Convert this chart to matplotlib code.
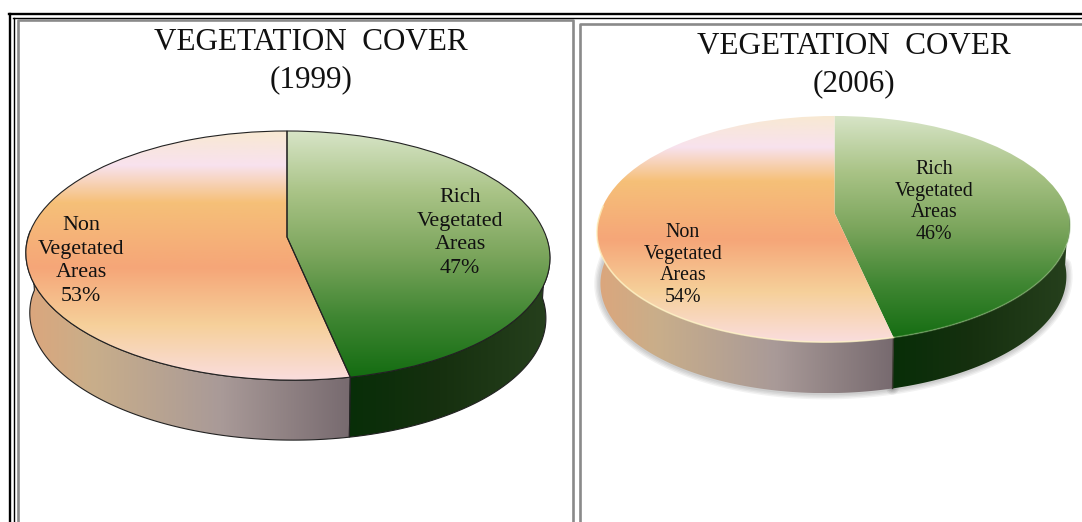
import numpy as np
import matplotlib
matplotlib.use("Agg")
import matplotlib.pyplot as plt
from matplotlib.colors import LinearSegmentedColormap
from matplotlib.patches import Polygon
from matplotlib.transforms import Transform

plt.rcParams['font.family'] = ['Liberation Serif', 'DejaVu Serif']

titles = ["VEGETATION  COVER\n(1999)", "VEGETATION  COVER\n(2006)"]
categories = ["Rich\nVegetated\nAreas", "Non\nVegetated\nAreas"]
values_1999 = [47, 53]
values_2006 = [46, 54]

# top face colours, from back of the pie to the front
green_top = ["#d8e5c8", "#a9c386", "#7ba55c", "#3f8632", "#126b10"]
orange_top = ["#f8e9d2", "#f8e2ee", "#f6c078", "#f5a678", "#f6d09a", "#fadddd"]
orange_stops = [0, 0.14, 0.29, 0.55, 0.78, 1]
# side wall colours, left to right
green_side = ["#082e08", "#16300f", "#26401d"]
orange_side = ["#dca67c", "#c9ae8a", "#a99a98", "#776a6f"]


class Persp(Transform):
    # unit circle -> tilted ellipse in pixel coordinates
    input_dims = 2
    output_dims = 2
    has_inverse = False

    def __init__(self, cx, cy, sx, sy, k, sh):
        super().__init__()
        self.p = (cx, cy, sx, sy, k, sh)

    def transform_non_affine(self, xy):
        cx, cy, sx, sy, k, sh = self.p
        xy = np.asarray(xy, dtype=float)
        w = 1 + k * xy[:, 1]
        ##front half leans a little, as in the drawing
        x = sx * xy[:, 0] + sh * np.minimum(xy[:, 1], 0)
        return np.column_stack([cx + x / w, cy - sy * xy[:, 1] / w])


def gradient(ax, box, cols, stops, clip):
    cmap = LinearSegmentedColormap.from_list("g", list(zip(stops, cols)))
    x0, x1, y0, y1 = box
    im = ax.imshow(np.linspace(0, 1, 256)[None, :], cmap=cmap, extent=(x0, x1, y1, y0),
                   aspect="auto", zorder=2, vmin=0, vmax=1)
    im.set_clip_path(clip)


def draw_pie(ax, values, persp, depth, shrink, edge, lw, fsize, spacing, label_pos, soft):
    cx = persp[0]
    tr = Persp(*persp)
    wedges, _ = ax.pie(values, startangle=90, counterclock=False, radius=1, center=(0, 0),
                       frame=True, wedgeprops=dict(facecolor="none", edgecolor="none"))
    ax.set_xlim(0, 1082)
    ax.set_ylim(522, 0)
    ax.set_aspect("auto")
    ax.set_axis_off()
    styles = [(green_top, np.linspace(0, 1, 5), green_side, [0, 0.45, 1]),
              (orange_top, orange_stops, orange_side, [0, 0.2, 0.6, 1])]
    top_y = tr.transform(np.array([[0.0, 1.0]]))[0, 1]
    bot_y = tr.transform(np.array([[0.0, -1.0]]))[0, 1]
    for i, (w, (tc, ts, sc, ss)) in enumerate(zip(wedges, styles)):
        # side wall, only the part of the rim facing the viewer
        th = np.radians(np.linspace(w.theta1, w.theta2, 300))
        rim = tr.transform(np.column_stack([np.cos(th), np.sin(th)]))
        keep = th % (2 * np.pi) > np.pi * 0.98
        rim = rim[keep]
        low = rim.copy()
        low[:, 0] = cx + (low[:, 0] - cx) * shrink
        low[:, 1] += depth
        wall = Polygon(np.vstack([rim, low[::-1]]), closed=True, facecolor="none",
                       edgecolor=edge, lw=lw, zorder=3)
        ax.add_patch(wall)
        gradient(ax, (rim[:, 0].min(), rim[:, 0].max(), top_y, bot_y + depth), sc, ss, wall)
        if soft:
            # blurred shadow under the wall and pale bevel on the top edge
            for s in [9, 7, 5, 3]:
                ax.plot(low[:, 0], low[:, 1], color="black", lw=s, alpha=0.05, zorder=1,
                        solid_capstyle="round")
            bevel = "#fff4c4" if i == 1 else "#8fb878"
            ax.plot(rim[:, 0], rim[:, 1], color=bevel, lw=1.2, alpha=0.75 if i == 1 else 0.45, zorder=5)
            if i == 0:
                ax.plot([rim[0, 0], low[0, 0]], [rim[0, 1], low[0, 1]], color="#3a3a30", lw=1, zorder=3)
    for w, (tc, ts, sc, ss) in zip(wedges, styles):
        # top face
        w.set_transform(tr + ax.transData)
        w.set_edgecolor(edge)
        w.set_linewidth(lw)
        w.set_zorder(5)
        cmap = LinearSegmentedColormap.from_list("g", list(zip(ts, tc)))
        im = ax.imshow(np.linspace(0, 1, 256)[:, None], cmap=cmap, aspect="auto", zorder=4,
                       extent=(cx - 300, cx + 300, bot_y, top_y))
        im.set_clip_path(w)
    for lab, v, pos in zip(categories, values, label_pos):
        ax.text(pos[0], pos[1], "%s\n%d%%" % (lab, v), ha="center", va="center", fontsize=fsize,
                color="#111111", linespacing=spacing, zorder=6)


fig = plt.figure(figsize=(10.82, 5.22), dpi=100)
ax = fig.add_axes([0, 0, 1, 1])

draw_pie(ax, values_1999, (287, 237, 259, 121.8, 0.149, -5.6), 60, 0.985, "#222222", 0.8, 15.8, 1.35,
         [(460, 233), (81, 261)], False)
draw_pie(ax, values_2006, (834.5, 213, 234, 110.8, 0.142, 7.6), 51, 0.985, "none", 0, 14.4, 1.18,
         [(934, 202), (683, 265)], True)

ax.text(311, 61, titles[0], ha="center", va="center", fontsize=22.4, color="#111111", linespacing=1.37)
ax.text(854, 65, titles[1], ha="center", va="center", fontsize=22.4, color="#111111", linespacing=1.37)

# table frame
ax.plot([9.5, 9.5], [14.2, 522], color="black", lw=1.7, zorder=8)
ax.plot([13.5, 13.5], [17.6, 522], color="black", lw=1.0, zorder=8)
ax.plot([8.9, 1082], [14.2, 14.2], color="black", lw=1.7, zorder=8)
ax.plot([13, 1082], [17.6, 17.6], color="black", lw=1.0, zorder=8)
ax.plot([17.5, 17.5, 572.7, 572.7], [522, 20, 20, 522], color="#8a8a8a", lw=1.9, zorder=8)
ax.plot([579.5, 579.5, 1082], [522, 23.5, 23.5], color="#8a8a8a", lw=1.9, zorder=8)

fig.savefig("out.png", dpi=100, facecolor="white")
